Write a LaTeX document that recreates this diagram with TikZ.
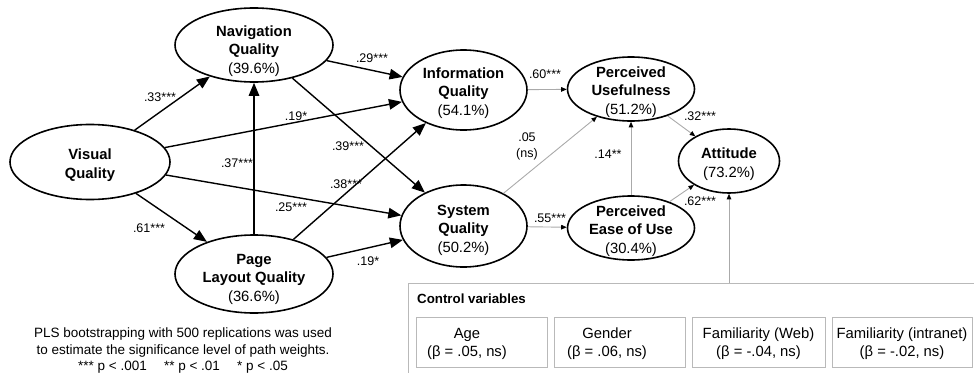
\documentclass[tikz,border=0pt]{standalone}
\usepackage{fontspec}
\setmainfont{Liberation Sans}
\usetikzlibrary{shapes.geometric,arrows.meta}
\definecolor{linegray}{RGB}{170,170,170}
\definecolor{boxgray}{RGB}{185,185,185}
\begin{document}
\begin{tikzpicture}[x=1pt,y=-1pt,
  lat/.style={ellipse,draw,line width=1.6pt,inner sep=0pt},
  lattxt/.style={align=center,inner sep=0pt,font=\fontsize{14.8}{18.5}\selectfont},
  bigarrow/.style={-{Triangle[length=13pt,width=10.5pt]},line width=1.4pt},
  smallarrow/.style={-{Triangle[length=5.5pt,width=4.5pt,color=black]},line width=0.9pt,draw=linegray},
  lbl/.style={font=\fontsize{12.5}{15}\selectfont,inner sep=1pt},
  cvbox/.style={draw=boxgray,line width=0.8pt,minimum height=50pt,inner sep=0pt},
  cvtext/.style={align=center,font=\fontsize{14.8}{18}\selectfont,inner sep=0pt},
  note/.style={align=center,font=\fontsize{13.5}{16.5}\selectfont,inner sep=0pt}]
\useasboundingbox (0,0) rectangle (974,372);

% latent variables (ellipses)
\node[lat,minimum width=158pt,minimum height=74pt] (nav) at (254,45) {};
\node[lat,minimum width=160pt,minimum height=75pt] (vis) at (90,162) {};
\node[lat,minimum width=158pt,minimum height=78pt] (page) at (254,274) {};
\node[lat,minimum width=127pt,minimum height=80pt] (info) at (463.5,90) {};
\node[lat,minimum width=127pt,minimum height=82pt] (sys) at (463.5,226) {};
\node[lat,minimum width=127pt,minimum height=64pt] (pu) at (631,89) {};
\node[lat,minimum width=127pt,minimum height=64pt] (peou) at (631,228) {};
\node[lat,minimum width=101pt,minimum height=64pt] (att) at (729,161) {};

% latent variable texts
\node[lattxt] (navt) at (254,51) {\textbf{Navigation}\\\textbf{Quality}\\(39.6\%)};
\node[lattxt] (vist) at (90,165) {\textbf{Visual}\\\textbf{Quality}};
\node[lattxt] (paget) at (254,279) {\textbf{Page}\\\textbf{Layout Quality}\\(36.6\%)};
\node[lattxt] (infot) at (463.5,93) {\textbf{Information}\\\textbf{Quality}\\(54.1\%)};
\node[lattxt] (syst) at (463.5,230) {\textbf{System}\\\textbf{Quality}\\(50.2\%)};
\node[lattxt] (put) at (631,92) {\textbf{Perceived}\\\textbf{Usefulness}\\(51.2\%)};
\node[lattxt] (peout) at (631,231) {\textbf{Perceived}\\\textbf{Ease of Use}\\(30.4\%)};
\node[lattxt] (attt) at (729,164) {\textbf{Attitude}\\(73.2\%)};

% black paths
\draw[bigarrow] (vis) -- (nav);
\draw[bigarrow] (vis) -- (info);
\draw[bigarrow] (vis) -- (sys);
\draw[bigarrow] (vis) -- (page);
\draw[bigarrow] (page.north) -- (nav.south);
\draw[bigarrow] (page) -- (info);
\draw[bigarrow] (page) -- (sys);
\draw[bigarrow] (nav) -- (info);
\draw[bigarrow] (nav) -- (sys);

% grey paths
\draw[smallarrow] (info) -- (pu);
\draw[smallarrow] (sys) -- (pu);
\draw[smallarrow] (sys) -- (peou);
\draw[smallarrow] (peou.north) -- (pu.south);
\draw[smallarrow] (pu) -- (att);
\draw[smallarrow] (peou) -- (att);
\coordinate (ctop) at (729,283);
\draw[smallarrow] (ctop) -- (att.south);

% path labels
\node[lbl] (l33) at (160,97) {.33***};
\node[lbl] (l19a) at (296,116) {.19*};
\node[lbl] (l25) at (291,207) {.25***};
\node[lbl] (l61) at (149,228) {.61***};
\node[lbl] (l37) at (237,163) {.37***};
\node[lbl] (l38) at (346,184) {.38***};
\node[lbl] (l19b) at (368,261) {.19*};
\node[lbl] (l29) at (372,58) {.29***};
\node[lbl] (l39) at (348,146) {.39***};
\node[lbl] (l60) at (545,74) {.60***};
\node[lbl,align=center,font=\fontsize{12.5}{16}\selectfont] (l05) at (527,146) {.05\\(ns)};
\node[lbl] (l55) at (550,218) {.55***};
\node[lbl] (l14) at (608,154) {.14**};
\node[lbl] (l32) at (700,116) {.32***};
\node[lbl] (l62) at (700,201) {.62***};

% control variables
\draw[draw=boxgray,line width=0.8pt] (980,283) -- (408,283) -- (408,380);
\node[anchor=west,font=\bfseries\fontsize{13.3}{15}\selectfont,inner sep=0pt] (cvtitle) at (417,299) {Control variables};
\node[cvbox,minimum width=131pt] (agebox) at (481.5,342) {};
\node[cvtext] (agetxt) at (467,344) {Age\\(β = .05, ns)};
\node[cvbox,minimum width=131.5pt] (genbox) at (619.75,342) {};
\node[cvtext] (gentxt) at (607,344) {Gender\\(β = .06, ns)};
\node[cvbox,minimum width=133pt] (webbox) at (758.5,342) {};
\node[cvtext] (webtxt) at (758.5,344) {Familiarity (Web)\\(β = -.04, ns)};
\node[cvbox,minimum width=140pt] (intbox) at (902,342) {};
\node[cvtext] (inttxt) at (902,344) {Familiarity (intranet)\\(β = -.02, ns)};

% note
\node[note] (note) at (183,351) {PLS bootstrapping with 500 replications was used\\to estimate the significance level of path weights.\\*** p {\textless} .001\quad\ ** p {\textless} .01\quad\ * p {\textless} .05};
\end{tikzpicture}
\end{document}
